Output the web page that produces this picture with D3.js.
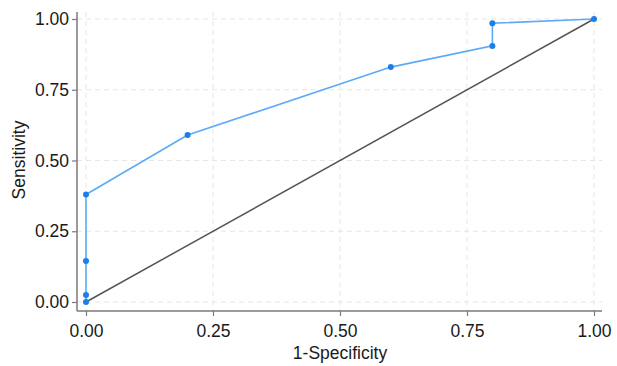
<!DOCTYPE html>
<html>
<head>
<meta charset="utf-8">
<script src="https://cdn.jsdelivr.net/npm/d3@7"></script>
<style>
  body { margin: 0; background: #fff; }
  text { font-family: "Liberation Sans", Arial, sans-serif; fill: #1a1a1a; }
</style>
</head>
<body>
<div id="chart"></div>
<script>
const fpr = [0, 0, 0, 0, 0.2, 0.6, 0.8, 0.8, 1];
const tpr = [0, 0.025, 0.145, 0.38, 0.59, 0.83, 0.905, 0.985, 1];
const ticks = [0, 0.25, 0.5, 0.75, 1];

const width = 617;
const height = 366;
const fontSize = '17.5px';

const x = d3.scaleLinear().domain([0, 1]).range([86, 594]);
const y = d3.scaleLinear().domain([0, 1]).range([302, 19]);

const svg = d3.select('#chart')
  .append('svg')
  .attr('width', width)
  .attr('height', height);

// dashed grid
svg.append('g')
  .selectAll('line')
  .data(ticks)
  .enter()
  .append('line')
  .attr('x1', 77).attr('x2', 602)
  .attr('y1', d => y(d)).attr('y2', d => y(d))
  .attr('stroke', '#e6e6e6')
  .attr('stroke-dasharray', '5,4');

svg.append('g')
  .selectAll('line')
  .data(ticks)
  .enter()
  .append('line')
  .attr('y1', 12).attr('y2', 311)
  .attr('x1', d => x(d)).attr('x2', d => x(d))
  .attr('stroke', '#e6e6e6')
  .attr('stroke-dasharray', '5,4');

// axes
const xAxis = svg.append('g')
  .attr('transform', 'translate(0,311)')
  .call(d3.axisBottom(x).tickValues(ticks).tickFormat(d3.format('.2f')).tickSize(5).tickSizeOuter(0));
xAxis.select('.domain').attr('d', 'M77,0H602');

const yAxis = svg.append('g')
  .attr('transform', 'translate(77,0)')
  .call(d3.axisLeft(y).tickValues(ticks).tickFormat(d3.format('.2f')).tickSize(5).tickSizeOuter(0));
yAxis.select('.domain').attr('d', 'M0,12V311');

svg.selectAll('.domain').attr('stroke', '#7a7a7a').attr('stroke-width', 1.5);
svg.selectAll('.tick line').attr('stroke', '#7a7a7a').attr('stroke-width', 1.2);
svg.selectAll('.tick text')
  .style('font-family', '"Liberation Sans", Arial, sans-serif')
  .style('font-size', fontSize)
  .attr('fill', '#1a1a1a');
xAxis.selectAll('.tick text').attr('dy', 0).attr('y', 26);
yAxis.selectAll('.tick text').attr('x', -8);

// axis titles
svg.append('text')
  .attr('x', 340)
  .attr('y', 359)
  .attr('text-anchor', 'middle')
  .style('font-size', fontSize)
  .text('1-Specificity');

svg.append('text')
  .attr('transform', 'translate(25,160) rotate(-90)')
  .attr('text-anchor', 'middle')
  .style('font-size', fontSize)
  .text('Sensitivity');

// reference diagonal
svg.append('line')
  .attr('x1', x(0)).attr('y1', y(0))
  .attr('x2', x(1)).attr('y2', y(1))
  .attr('stroke', '#555')
  .attr('stroke-width', 1.5);

// ROC curve
const points = fpr.map((f, i) => [f, tpr[i]]);
const line = d3.line().x(d => x(d[0])).y(d => y(d[1]));

svg.append('path')
  .datum(points)
  .attr('d', line)
  .attr('fill', 'none')
  .attr('stroke', '#5aaaf7')
  .attr('stroke-width', 1.6);

svg.append('g')
  .selectAll('circle')
  .data(points)
  .enter()
  .append('circle')
  .attr('cx', d => x(d[0]))
  .attr('cy', d => y(d[1]))
  .attr('r', 3)
  .attr('fill', '#1e7ee8');
</script>
</body>
</html>
